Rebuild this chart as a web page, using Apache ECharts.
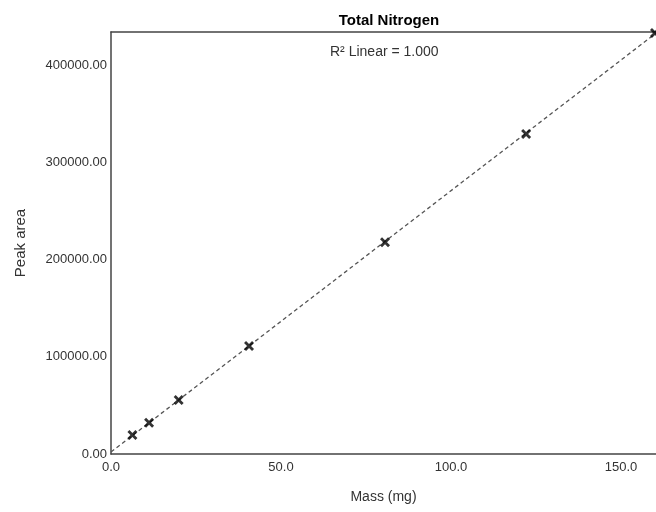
<!DOCTYPE html>
<html>
<head>
<meta charset="utf-8">
<script src="https://cdn.jsdelivr.net/npm/echarts@6/dist/echarts.min.js"></script>
<style>
  html, body { margin: 0; padding: 0; background: #fff; }
  #chart { width: 656px; height: 512px; }
</style>
</head>
<body>
<div id="chart"></div>
<script>
// mass (mg) and measured peak area
var mass = [6.3, 11.2, 19.9, 40.6, 80.6, 122.1, 160.0];
var peakArea = [19500, 32200, 55600, 111100, 217800, 329200, 433100];
var xTicks = [0, 50, 100, 150];
var yTicks = [0, 100000, 200000, 300000, 400000];

var points = mass.map(function (m, i) { return [m, peakArea[i]]; });

// least squares fit for the reference line
var n = mass.length, sx = 0, sy = 0, sxx = 0, sxy = 0;
for (var i = 0; i < n; i++) {
  sx += mass[i]; sy += peakArea[i];
  sxx += mass[i] * mass[i]; sxy += mass[i] * peakArea[i];
}
var slope = (n * sxy - sx * sy) / (n * sxx - sx * sx);
var icpt = (sy - slope * sx) / n;

var xMax = 160.3, yMax = 434000;
var fitLine = [[0, icpt], [xMax, icpt + slope * xMax]];

var myChart = echarts.init(document.getElementById('chart'));
var axisTxt = { fontFamily: 'Liberation Sans', fontSize: 13, color: '#333' };
var crossMark = 'path://M2,0L5,3L8,0L10,2L7,5L10,8L8,10L5,7L2,10L0,8L3,5L0,2Z';

var option = {
  animation: false,
  title: {
    text: 'Total Nitrogen',
    left: 384, top: 8, textAlign: 'center',
    textStyle: { fontFamily: 'Liberation Sans', fontSize: 15, fontWeight: 'bold', color: '#000' }
  },
  graphic: [{
    type: 'text', left: 330, top: 45,
    style: { text: 'R\u00b2 Linear = 1.000', font: '14px Liberation Sans', fill: '#333' }
  }],
  grid: { left: 111, right: 0, top: 32, bottom: 58, containLabel: false },
  xAxis: [{
    type: 'value', min: 0, max: xMax, interval: 50,
    name: 'Mass (mg)', nameLocation: 'middle', nameGap: 36,
    nameTextStyle: { fontFamily: 'Liberation Sans', fontSize: 14, color: '#333' },
    axisLine: { show: true, lineStyle: { color: '#444', width: 1.5 } },
    axisTick: { show: false },
    splitLine: { show: false },
    axisLabel: Object.assign({ showMaxLabel: false, margin: 7,
      formatter: function (v) { return v.toFixed(1); } }, axisTxt)
  }, {
    type: 'value', position: 'top', min: 0, max: xMax,
    axisLine: { show: true, lineStyle: { color: '#444', width: 1.5 } },
    axisTick: { show: false }, axisLabel: { show: false }, splitLine: { show: false }
  }],
  yAxis: {
    type: 'value', min: 0, max: yMax, interval: 100000,
    name: 'Peak area', nameLocation: 'middle', nameGap: 83, nameRotate: 90,
    nameTextStyle: { fontFamily: 'Liberation Sans', fontSize: 15, color: '#333' },
    axisLine: { show: true, lineStyle: { color: '#444', width: 1.5 } },
    axisTick: { show: false },
    splitLine: { show: false },
    axisLabel: Object.assign({ showMaxLabel: false, margin: 4,
      formatter: function (v) { return v.toFixed(2); } }, axisTxt)
  },
  series: [{
    type: 'line', data: fitLine, symbol: 'none', silent: true,
    lineStyle: { color: '#555', width: 1.3, type: [4, 3] }, z: 1
  }, {
    type: 'scatter', data: points, symbol: crossMark, symbolSize: 10,
    clip: false, itemStyle: { color: '#000' }, z: 2
  }]
};
myChart.setOption(option);
</script>
</body>
</html>
